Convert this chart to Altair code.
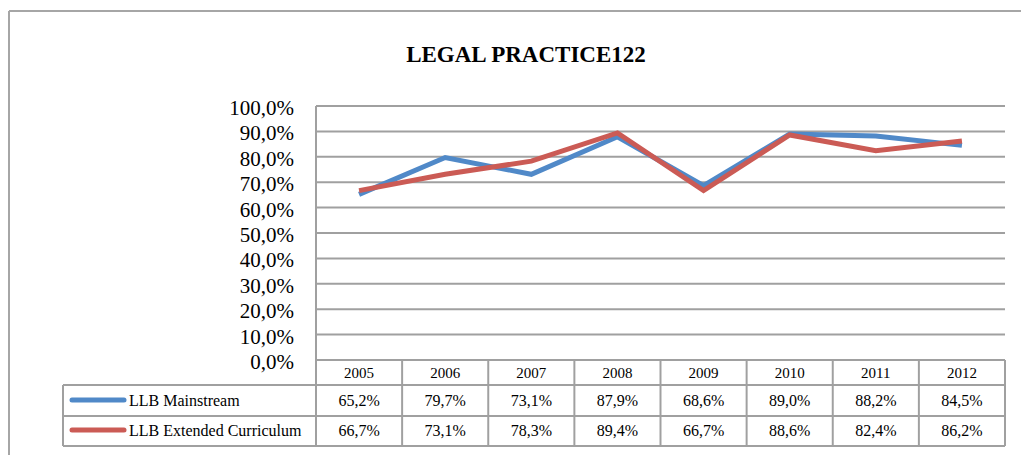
import altair as alt
import pandas as pd

# ---- data ----
years = [2005, 2006, 2007, 2008, 2009, 2010, 2011, 2012]
series_names = ["LLB Mainstream", "LLB Extended Curriculum"]
mainstream = [65.2, 79.7, 73.1, 87.9, 68.6, 89.0, 88.2, 84.5]
extended = [66.7, 73.1, 78.3, 89.4, 66.7, 88.6, 82.4, 86.2]
series_colors = ["#5089C8", "#CB5B55"]
title_text = "LEGAL PRACTICE122"
y_ticks = [0, 10, 20, 30, 40, 50, 60, 70, 80, 90, 100]

# ---- layout (page pixel coordinates converted to view coordinates) ----
W, H = 689, 254
X0, Y0 = 316, 106


def px(v):
    return v - X0


def py(v):
    return v - Y0


FONT = "Liberation Serif"
LINE_GREY = "#A0A0A0"

rows = []
for name, vals in zip(series_names, [mainstream, extended]):
    for yr, v in zip(years, vals):
        rows.append({"year": yr, "series": name, "value": v})
df = pd.DataFrame(rows)
years_df = pd.DataFrame({"year": years})
ticks_df = pd.DataFrame({"tick": y_ticks})
one = pd.DataFrame({"k": [0]})

xscale = alt.Scale(domain=[2004.5, 2012.5], nice=False, zero=False)
yscale = alt.Scale(domain=[0, 100], nice=False, zero=False)
X = alt.X("year:Q", scale=xscale, axis=None)
Y = alt.Y("value:Q", scale=yscale, axis=None)
YT = alt.Y("tick:Q", scale=yscale, axis=None)

pct_value = "replace(format(datum.value, '.1f'), '.', ',') + '%'"
pct_tick = "replace(format(datum.tick, '.1f'), '.', ',') + '%'"

layers = []

# gridlines (every 10 %)
layers.append(
    alt.Chart(ticks_df)
    .mark_rule(color=LINE_GREY, strokeWidth=2)
    .encode(y=YT, x=alt.value(0), x2=alt.value(W))
)
# y tick labels
layers.append(
    alt.Chart(ticks_df)
    .transform_calculate(label=pct_tick)
    .mark_text(font=FONT, fontSize=21, align="right", baseline="middle", dy=3, color="#000000")
    .encode(y=YT, x=alt.value(-22), text="label:N")
)


def rule(x, y, x2=None, y2=None, color=LINE_GREY, width=2):
    enc = dict(x=alt.value(x), y=alt.value(y))
    if x2 is not None:
        enc["x2"] = alt.value(x2)
    if y2 is not None:
        enc["y2"] = alt.value(y2)
    return alt.Chart(one).mark_rule(color=color, strokeWidth=width).encode(**enc)


# frame
layers.append(rule(-307, py(11), x2=760, color="#A6A6A6"))
layers.append(rule(-307, py(11), y2=420, color="#A6A6A6"))

# axis line / left edge of the year columns
layers.append(rule(0, 0, y2=py(446)))
# table horizontal lines
for yy in [385, 416, 446]:
    layers.append(rule(px(63), py(yy), x2=W))
# legend column left border
layers.append(rule(px(63), py(385), y2=py(446)))

# column boundaries
layers.append(
    alt.Chart(years_df)
    .transform_calculate(edge="datum.year + 0.5")
    .mark_rule(color=LINE_GREY, strokeWidth=2)
    .encode(x=alt.X("edge:Q", scale=xscale, axis=None), y=alt.value(py(360)), y2=alt.value(py(446)))
)

# lines
for name, col in zip(series_names, series_colors):
    layers.append(
        alt.Chart(df)
        .transform_filter(alt.datum.series == name)
        .mark_line(strokeWidth=5, color=col, strokeJoin="miter")
        .encode(x=X, y=Y)
    )

# year header
layers.append(
    alt.Chart(years_df)
    .mark_text(font=FONT, fontSize=15, baseline="middle", color="#000000")
    .encode(x=X, y=alt.value(py(373)), text=alt.Text("year:Q", format="d"))
)

row_centers = [401, 431]
sdf = pd.DataFrame({"series": series_names})
for name, col, yc in zip(series_names, series_colors, row_centers):
    # values
    layers.append(
        alt.Chart(df)
        .transform_filter(alt.datum.series == name)
        .transform_calculate(label=pct_value)
        .mark_text(font=FONT, fontSize=16, baseline="middle", color="#000000")
        .encode(x=X, y=alt.value(py(yc)), text="label:N")
    )
    # legend swatch
    layers.append(
        alt.Chart(sdf)
        .transform_filter(alt.datum.series == name)
        .mark_rule(color=col, strokeWidth=5, strokeCap="round")
        .encode(x=alt.value(px(72)), x2=alt.value(px(124)), y=alt.value(py(yc - 1)))
    )
    # legend text
    layers.append(
        alt.Chart(sdf)
        .transform_filter(alt.datum.series == name)
        .mark_text(font=FONT, fontSize=16, baseline="middle", align="left", color="#000000")
        .encode(x=alt.value(px(129)), y=alt.value(py(yc)), text="series:N")
    )

# title
layers.append(
    alt.Chart(pd.DataFrame({"t": [title_text]}))
    .mark_text(font=FONT, fontSize=23, fontWeight="bold", baseline="middle", align="center", color="#000000")
    .encode(x=alt.value(px(526)), y=alt.value(py(55)), text="t:N")
)

chart = (
    alt.layer(*layers)
    .properties(
        width=W,
        height=H,
        autosize=alt.AutoSizeParams(type="none"),
        padding={"left": 308, "top": 98, "right": 16, "bottom": 95},
        background="white",
    )
    .configure_view(stroke=None)
)

chart.save("out.html", embed_options={"renderer": "svg", "actions": False})
